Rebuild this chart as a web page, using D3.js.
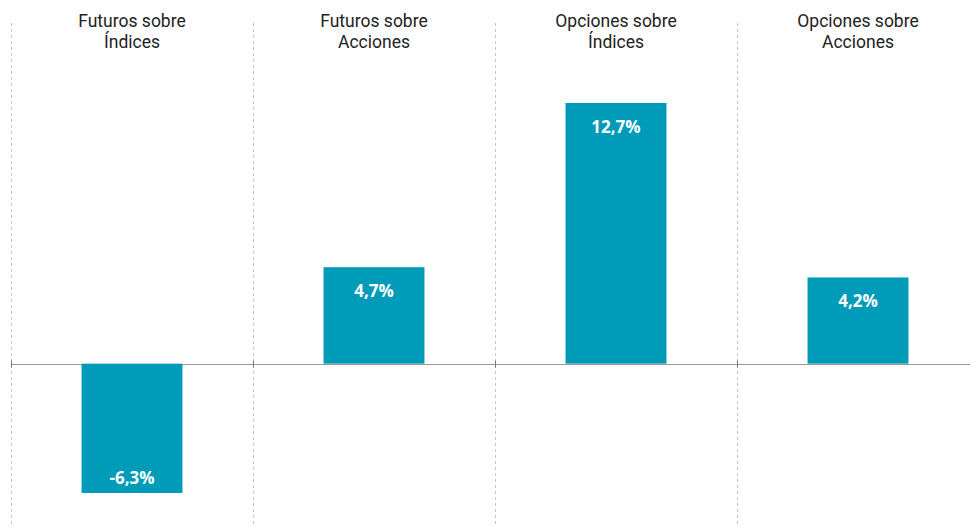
<!DOCTYPE html>
<html>
<head>
<meta charset="utf-8">
<script src="https://cdn.jsdelivr.net/npm/d3@7"></script>
<style>
  body { margin: 0; background: #fff; }
  .cat { font-family: Roboto, "Open Sans", sans-serif; font-size: 17.5px; fill: #222; }
  .val { font-family: "Open Sans", Roboto, sans-serif; font-size: 17px; font-weight: 700; fill: #fff; }
</style>
</head>
<body>
<div id="chart"></div>
<script>
// data
var categories = ["Futuros sobre\nÍndices", "Futuros sobre\nAcciones", "Opciones sobre\nÍndices", "Opciones sobre\nAcciones"];
var values = [-6.3, 4.7, 12.7, 4.2];
var valueLabels = ["-6,3%", "4,7%", "12,7%", "4,2%"];

var width = 971,
    height = 526;

var data = categories.map(function(c, i) {
  return { cat: c, value: values[i], label: valueLabels[i] };
});

var x = d3.scaleBand()
    .domain(categories)
    .range([11, 979])
    .paddingInner(0.583)
    .paddingOuter(0.2915);

var y = d3.scaleLinear()
    .domain([d3.min(values), d3.max(values)])
    .range([493, 103]);

var svg = d3.select("#chart")
  .append("svg")
  .attr("width", width)
  .attr("height", height);

var half = x.step() * x.paddingInner() / 2;

// dashed separators
svg.selectAll(".sep")
  .data(categories)
  .enter().append("line")
  .attr("class", "sep")
  .attr("x1", function(d) { return Math.round(x(d) - half) + 0.5; })
  .attr("x2", function(d) { return Math.round(x(d) - half) + 0.5; })
  .attr("y1", 23)
  .attr("y2", height)
  .attr("stroke", "#c4c4c4")
  .attr("stroke-dasharray", "3,3");

// zero line
svg.append("line")
  .attr("x1", 11)
  .attr("x2", 970)
  .attr("y1", Math.round(y(0)) + 0.5)
  .attr("y2", Math.round(y(0)) + 0.5)
  .attr("stroke", "#999")
  .attr("stroke-width", 1.2);

// ticks on zero line
svg.selectAll(".tick")
  .data(categories)
  .enter().append("line")
  .attr("x1", function(d) { return Math.round(x(d) - half) + 0.5; })
  .attr("x2", function(d) { return Math.round(x(d) - half) + 0.5; })
  .attr("y1", y(0) - 3)
  .attr("y2", y(0) + 4)
  .attr("stroke", "#777");

// bars
svg.selectAll(".bar")
  .data(data)
  .enter().append("rect")
  .attr("class", "bar")
  .attr("x", function(d) { return x(d.cat); })
  .attr("width", x.bandwidth())
  .attr("y", function(d) { return y(Math.max(0, d.value)); })
  .attr("height", function(d) { return Math.abs(y(d.value) - y(0)); })
  .attr("fill", "#009bb8");

// value labels
svg.selectAll(".val")
  .data(data)
  .enter().append("text")
  .attr("class", "val")
  .attr("text-anchor", "middle")
  .attr("x", function(d) { return x(d.cat) + x.bandwidth() / 2; })
  .attr("y", function(d) { return d.value >= 0 ? y(d.value) + 30 : y(d.value) - 9; })
  .text(function(d) { return d.label; });

// category labels, one text per line
svg.selectAll(".cat-group")
  .data(data)
  .enter().append("g")
  .attr("class", "cat-group")
  .selectAll("text")
  .data(function(d) {
    var cx = x(d.cat) + x.bandwidth() / 2;
    return d.cat.split("\n").map(function(t, i) { return { text: t, cx: cx, i: i }; });
  })
  .enter().append("text")
  .attr("class", "cat")
  .attr("text-anchor", "middle")
  .attr("x", function(d) { return d.cx; })
  .attr("y", function(d) { return 27 + d.i * 20.5; })
  .text(function(d) { return d.text; });
</script>
</body>
</html>
